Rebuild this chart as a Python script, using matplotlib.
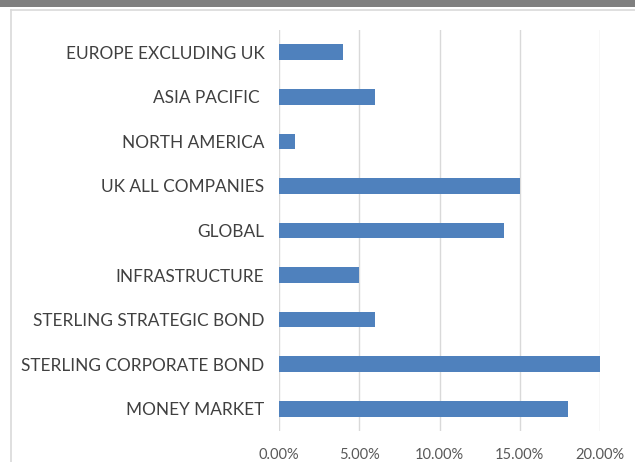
import matplotlib
matplotlib.use("Agg")
import matplotlib.pyplot as plt
from matplotlib.patches import Rectangle
from matplotlib.lines import Line2D
from matplotlib.ticker import FuncFormatter, MultipleLocator

categories = ["EUROPE EXCLUDING UK", "ASIA PACIFIC ", "NORTH AMERICA", "UK ALL COMPANIES",
              "GLOBAL", "INFRASTRUCTURE", "STERLING STRATEGIC BOND",
              "STERLING CORPORATE BOND", "MONEY MARKET"]
values = [4.0, 6.0, 1.0, 15.0, 14.0, 5.0, 6.0, 20.1, 18.0]

W, H = 635, 462
fig = plt.figure(figsize=(W / 100, H / 100), dpi=100)
fig.patch.set_facecolor("white")

# top dark band and outer frame
fig.patches.append(Rectangle((0, 1 - 6.5 / H), 1, 6.5 / H, transform=fig.transFigure,
                             facecolor="#7f7f7f", edgecolor="none"))
fig.lines.append(Line2D([11 / W, 11 / W], [0, 1 - 10 / H], transform=fig.transFigure,
                        color="#d9d9d9", lw=1.2))
fig.lines.append(Line2D([11 / W, 1], [1 - 10 / H, 1 - 10 / H], transform=fig.transFigure,
                        color="#d9d9d9", lw=1.2))

ax = fig.add_axes([279 / W, (H - 431) / H, (600 - 279) / W, (431 - 30) / H])
y = list(range(len(categories)))
ax.barh(y, values, height=0.35, color="#4f81bd", zorder=3)
ax.set_ylim(len(categories) - 0.5, -0.5)
ax.set_xlim(0, 20)
ax.xaxis.set_major_locator(MultipleLocator(5))
ax.xaxis.set_major_formatter(FuncFormatter(lambda v, p: f"{v:.2f}%"))
ax.grid(axis="x", color="#d9d9d9", lw=1, zorder=0)
for s in ax.spines.values():
    s.set_visible(False)
ax.set_yticks(y)
ax.set_yticklabels(categories, fontfamily="Lato", fontsize=12.4, color="#404040")
ax.tick_params(axis="y", length=0, pad=10.5)
ax.tick_params(axis="x", length=0, pad=12, labelsize=10.5, labelcolor="#595959")
for t in ax.get_xticklabels():
    t.set_fontfamily("Lato")

fig.savefig("out.png", dpi=100)
